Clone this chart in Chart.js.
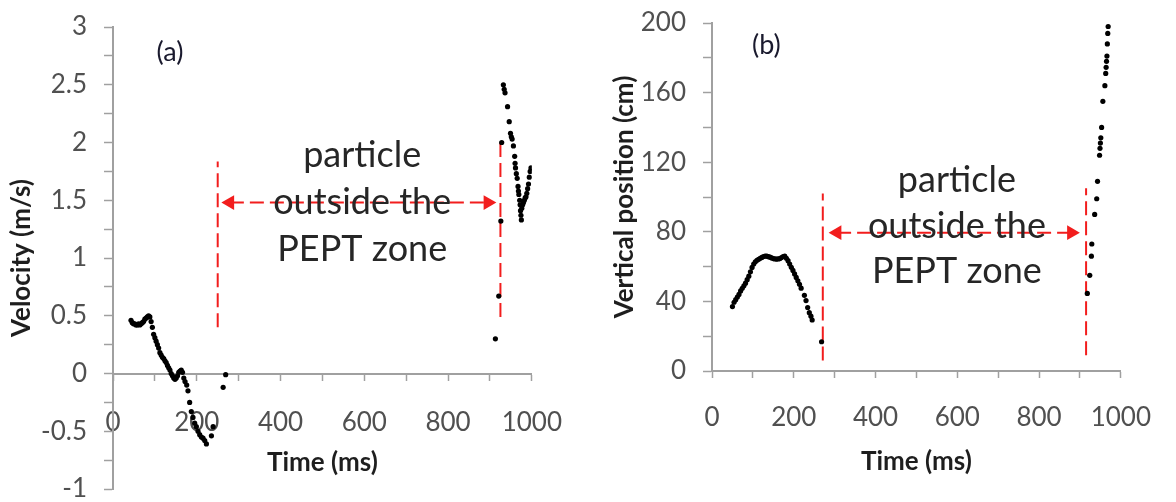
<!DOCTYPE html>
<html lang="en">

<head>
    <meta charset="utf-8">
    <style>
        body { margin: 0; background: #fff; }
        .panel { position: absolute; top: 0; }
    </style>
</head>

<body>
    <div class="panel" style="left:0"><canvas id="velocityChart" width="590" height="502"></canvas></div>
    <div class="panel" style="left:590px"><canvas id="positionChart" width="586" height="502"></canvas></div>
    <script src="https://cdn.jsdelivr.net/npm/chart.js"></script>
    <script>
        // (a) particle velocity, m/s
        const velTime = [43, 46, 49, 52, 55, 58, 61, 64, 67, 70,
            73, 76, 79, 82, 85, 88, 91, 94, 97, 100,
            103, 106, 109, 112, 115, 118, 121, 124, 127, 130,
            133, 136, 139, 142, 145, 148, 151, 154, 157, 160,
            163, 166, 169, 172, 176, 179, 183, 187, 191, 195,
            199, 203, 207, 211, 215, 219, 223, 235, 239, 263,
            269,
            913, 921, 926, 928, 932, 934, 936, 942, 946, 949,
            951, 953, 956, 959, 960, 961, 963, 965, 967, 968,
            969, 971, 972, 973, 974, 975, 976, 978, 980, 982,
            984, 986, 988, 990, 992, 994, 996, 998];
        const velValue = [0.46, 0.44, 0.43, 0.43, 0.42, 0.42, 0.43, 0.42, 0.43, 0.44,
            0.45, 0.47, 0.48, 0.49, 0.50, 0.49, 0.45, 0.40, 0.34, 0.31,
            0.28, 0.25, 0.22, 0.18, 0.16, 0.14, 0.13, 0.11, 0.095, 0.07,
            0.05, 0.03, 0.00, -0.02, -0.04, -0.05, -0.04, -0.02, 0.01, 0.02,
            0.03, 0.01, -0.04, -0.07, -0.10, -0.15, -0.25, -0.33, -0.38, -0.43,
            -0.46, -0.50, -0.53, -0.55, -0.56, -0.58, -0.61, -0.54, -0.46, -0.12,
            -0.01,
            0.30, 0.67, 1.32, 2.00, 2.50, 2.46, 2.43, 2.31, 2.18, 2.08,
            2.05, 2.03, 1.97, 1.88, 1.82, 1.78, 1.73, 1.69, 1.62, 1.58,
            1.55, 1.50, 1.46, 1.41, 1.37, 1.33, 1.43, 1.46, 1.48, 1.50,
            1.52, 1.53, 1.56, 1.60, 1.64, 1.70, 1.75, 1.78];

        // (b) vertical position, cm
        const posTime = [50, 54, 58, 62, 66, 70, 74, 78, 82, 86,
            90, 94, 98, 102, 106, 110, 114, 118, 122, 126,
            130, 134, 138, 142, 146, 150, 154, 158, 162, 166,
            170, 174, 178, 182, 186, 190, 194, 198, 202, 206,
            210, 214, 218, 226, 230, 234, 238, 242, 245, 268,
            918, 924, 928, 929, 936, 941, 943, 948, 949, 950,
            951, 953, 956, 961, 963, 964, 965, 966, 967, 968,
            969];
        const posValue = [37, 39.5, 41, 42.5, 44, 46, 47.5, 49, 50.5, 52.5,
            54.5, 57, 59.5, 61.5, 62.8, 63.6, 64.2, 64.8, 65.3, 65.8,
            66.1, 66, 65.7, 65.4, 65, 64.6, 64.4, 64.3, 64.4, 64.6,
            65.2, 65.8, 66, 64.8, 63.4, 61.5, 59.6, 57.8, 55.8, 53.8,
            51.8, 49.8, 47.6, 43.5, 40.5, 36.5, 33.5, 31.5, 29.3, 16.8,
            44.6, 55, 66, 73, 90, 99, 109, 124, 128, 131,
            134, 140, 155, 164, 171, 174.5, 178, 181, 188, 194,
            198];

        // tick labels
        const timeTicks = [0, 200, 400, 600, 800, 1000];
        const velTicks = [-1, -0.5, 0, 0.5, 1, 1.5, 2, 2.5, 3];
        const posTicks = [0, 40, 80, 120, 160, 200];

        // limits of the PEPT zone gap: dashed markers [time, from, to], arrow [from, to, level]
        const gapA = { start: [250, 0.4, 1.835], end: [925, 0.49, 2.0], arrow: [279, 895, 1.48] };
        const gapB = { start: [271, 6, 102], end: [915, 9, 105], arrow: [306, 879, 79.5] };

        const noteLines = ['particle', 'outside the', 'PEPT zone'];

        Chart.defaults.font.family = 'Lato, "Open Sans", sans-serif';

        const axisGray = '#a0a0a0';
        const tickGray = '#505050';
        const red = '#f21d1d';

        const zoneNotes = {
            id: 'zoneNotes',
            afterDatasetsDraw(chart, args, opts) {
                const { ctx, scales: { x, y } } = chart;
                ctx.save();
                ctx.fillStyle = '#262626';
                ctx.textAlign = 'center';
                ctx.textBaseline = 'alphabetic';
                ctx.font = '36px Lato';
                noteLines.forEach((t, i) => {
                    ctx.fillText(t, x.getPixelForValue(opts.at), y.getPixelForValue(opts.base[i]));
                });
                ctx.fillStyle = '#1a1a2e';
                ctx.textBaseline = 'middle';
                ctx.font = '27px Lato';
                ctx.fillText(opts.tag, x.getPixelForValue(opts.tagAt[0]), y.getPixelForValue(opts.tagAt[1]));
                ctx.restore();
            }
        };

        function points(xs, ys) {
            return xs.map((t, i) => ({ x: t, y: ys[i] }));
        }

        function dashed(data, extra) {
            return Object.assign({
                data: data,
                showLine: true,
                borderColor: red,
                borderWidth: 2,
                borderDash: [14, 6],
                pointRadius: 0
            }, extra || {});
        }

        function createChart(id, cfg) {
            const labelOf = (list) => (v) => list.some(t => Math.abs(t - v) < 1e-6) ? String(v) : '';
            new Chart(document.getElementById(id), {
                type: 'scatter',
                data: {
                    datasets: [{
                        data: cfg.data,
                        pointRadius: 2.6,
                        pointBorderWidth: 0,
                        pointBackgroundColor: '#000'
                    },
                    dashed([{ x: cfg.gap.start[0], y: cfg.gap.start[1] }, { x: cfg.gap.start[0], y: cfg.gap.start[2] }]),
                    dashed([{ x: cfg.gap.end[0], y: cfg.gap.end[1] }, { x: cfg.gap.end[0], y: cfg.gap.end[2] }]),
                    dashed([{ x: cfg.gap.arrow[0], y: cfg.gap.arrow[2] }, { x: cfg.gap.arrow[1], y: cfg.gap.arrow[2] }], {
                        pointStyle: 'triangle',
                        pointRadius: 8.5,
                        pointRotation: [-90, 90],
                        pointBackgroundColor: red,
                        pointBorderWidth: 0
                    })]
                },
                options: {
                    responsive: false,
                    animation: false,
                    events: [],
                    layout: { padding: cfg.padding },
                    plugins: {
                        legend: { display: false },
                        tooltip: { enabled: false },
                        zoneNotes: cfg.notes
                    },
                    scales: {
                        x: {
                            type: 'linear',
                            min: 0,
                            max: 1000,
                            position: { y: 0 },
                            ticks: {
                                stepSize: 100,
                                autoSkip: false,
                                maxRotation: 0,
                                padding: cfg.xPad,
                                color: tickGray,
                                font: { size: 26 },
                                callback: labelOf(timeTicks)
                            },
                            grid: { drawOnChartArea: false, tickLength: 6, color: axisGray, tickWidth: 1.5 },
                            border: { color: axisGray, width: 2 },
                            title: {
                                display: true,
                                text: 'Time (ms)',
                                color: '#1e1e1e',
                                font: { size: 26, weight: 'bold' },
                                padding: { top: cfg.xTitlePad, bottom: 0 }
                            }
                        },
                        y: {
                            min: cfg.yMin,
                            max: cfg.yMax,
                            ticks: {
                                stepSize: cfg.yStep,
                                autoSkip: false,
                                padding: 17,
                                color: tickGray,
                                font: { size: 26 },
                                callback: labelOf(cfg.yTicks)
                            },
                            grid: { drawOnChartArea: false, tickLength: 9, color: axisGray, tickWidth: 1.5 },
                            border: { color: axisGray, width: 2 },
                            title: {
                                display: true,
                                text: cfg.yTitle,
                                color: '#1e1e1e',
                                font: { size: 26, weight: 'bold' },
                                padding: { top: cfg.yTitlePad, bottom: 0 }
                            },
                            afterFit: (s) => {
                                s.width = cfg.axisWidth;
                                s.paddingTop = 0;
                                s.paddingBottom = 0;
                            }
                        }
                    }
                },
                plugins: [zoneNotes]
            });
        }

        createChart('velocityChart', {
            data: points(velTime, velValue),
            gap: gapA,
            yMin: -1, yMax: 3, yStep: 0.25, yTicks: velTicks,
            yTitle: 'Velocity (m/s)',
            axisWidth: 113, yTitlePad: 6, xPad: 28, xTitlePad: -20,
            padding: { left: 0, top: 27, right: 57, bottom: 13 },
            notes: { at: 595, base: [1.79, 1.377, 0.97], tag: '(a)', tagAt: [136, 2.78] }
        });

        createChart('positionChart', {
            data: points(posTime, posValue),
            gap: gapB,
            yMin: 0, yMax: 200, yStep: 20, yTicks: posTicks,
            yTitle: 'Vertical position (cm)',
            axisWidth: 122, yTitlePad: 19, xPad: 25, xTitlePad: -12,
            padding: { left: 0, top: 23, right: 43, bottom: 131 },
            notes: { at: 599, base: [102.9, 76.4, 50.6], tag: '(b)', tagAt: [133, 187] }
        });
    </script>
</body>

</html>
